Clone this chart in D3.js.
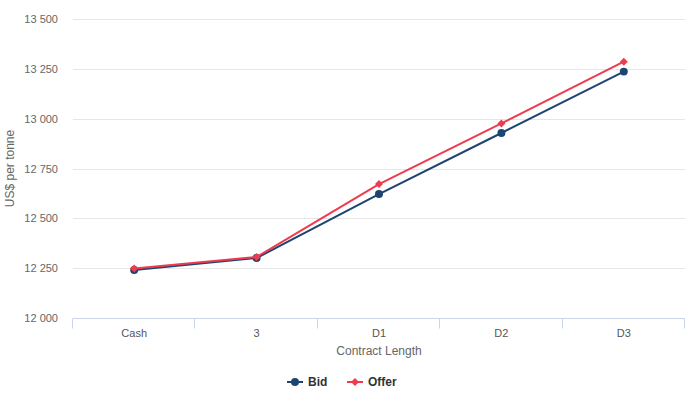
<!DOCTYPE html>
<html>
<head>
<meta charset="utf-8">
<script src="https://cdn.jsdelivr.net/npm/d3@7"></script>
<style>
  body { margin: 0; background: #fff; font-family: "Liberation Sans", Arial, sans-serif; }
</style>
</head>
<body>
<div id="chart"></div>
<script>
const categories = ['Cash', '3', 'D1', 'D2', 'D3'];
const bidValues = [12241, 12301, 12622, 12928, 13236];
const offerValues = [12248, 12306, 12672, 12976, 13286];
const yTicks = [12000, 12250, 12500, 12750, 13000, 13250, 13500];

const width = 691, height = 399;
const margin = { top: 19, right: 6, bottom: 81, left: 73 };

const svg = d3.select('#chart').append('svg')
  .attr('width', width)
  .attr('height', height);

const x = d3.scaleBand()
  .domain(categories)
  .range([margin.left, width - margin.right]);

const y = d3.scaleLinear()
  .domain([12000, 13500])
  .range([height - margin.bottom, margin.top]);

const fmt = v => d3.format(',')(v).replace(',', ' ');

// grid lines
svg.append('g')
  .selectAll('line')
  .data(yTicks)
  .enter()
  .append('line')
  .attr('x1', margin.left)
  .attr('x2', width - margin.right)
  .attr('y1', d => Math.round(y(d)) + 0.5)
  .attr('y2', d => Math.round(y(d)) + 0.5)
  .style('stroke', '#e6e6e6');

// y labels
svg.append('g')
  .selectAll('text')
  .data(yTicks)
  .enter()
  .append('text')
  .attr('x', 58)
  .attr('y', d => y(d) + 4)
  .attr('text-anchor', 'end')
  .text(d => fmt(d))
  .style('fill', '#666')
  .style('font-size', '11px');

svg.append('text')
  .attr('transform', `translate(14,${(margin.top + height - margin.bottom) / 2}) rotate(-90)`)
  .attr('text-anchor', 'middle')
  .text('US$ per tonne')
  .style('fill', '#666')
  .style('font-size', '12px');

// x axis
const baseY = Math.round(y(12000)) + 0.5;
svg.append('line')
  .attr('x1', margin.left)
  .attr('x2', width - margin.right)
  .attr('y1', baseY)
  .attr('y2', baseY)
  .style('stroke', '#ccd6eb');

const tickXs = categories.map(c => x(c)).concat([x.range()[1]]);
svg.append('g')
  .selectAll('line')
  .data(tickXs)
  .enter()
  .append('line')
  .attr('x1', d => Math.round(d) - 0.5)
  .attr('x2', d => Math.round(d) - 0.5)
  .attr('y1', baseY)
  .attr('y2', baseY + 10)
  .style('stroke', '#ccd6eb');

svg.append('g')
  .selectAll('text')
  .data(categories)
  .enter()
  .append('text')
  .attr('x', d => x(d) + x.bandwidth() / 2)
  .attr('y', 337)
  .attr('text-anchor', 'middle')
  .text(d => d)
  .style('fill', '#555')
  .style('font-size', '11px');

svg.append('text')
  .attr('x', (margin.left + width - margin.right) / 2)
  .attr('y', 355)
  .attr('text-anchor', 'middle')
  .text('Contract Length')
  .style('fill', '#666')
  .style('font-size', '12px');

// series
const series = [
  { name: 'Bid', values: bidValues, color: '#1c4571', symbol: d3.symbolCircle, size: 50, rot: 0 },
  { name: 'Offer', values: offerValues, color: '#ef3b4e', symbol: d3.symbolSquare, size: 32, rot: 45 }
];

const line = d3.line()
  .x((d, i) => x(categories[i]) + x.bandwidth() / 2)
  .y(d => y(d));

series.forEach(s => {
  svg.append('path')
    .datum(s.values)
    .attr('d', line)
    .style('fill', 'none')
    .style('stroke', s.color)
    .style('stroke-width', 2)
    .style('stroke-linejoin', 'round');

  svg.append('g')
    .selectAll('path')
    .data(s.values)
    .enter()
    .append('path')
    .attr('d', d3.symbol().type(s.symbol).size(s.size))
    .attr('transform', (d, i) => `translate(${x(categories[i]) + x.bandwidth() / 2},${y(d)}) rotate(${s.rot})`)
    .style('fill', s.color);
});

// legend
const legendX = [287, 347];
const legend = svg.selectAll('.legend')
  .data(series)
  .enter()
  .append('g')
  .attr('class', 'legend')
  .attr('transform', (d, i) => `translate(${legendX[i]},382)`);

legend.append('line')
  .attr('x1', 0)
  .attr('x2', 16)
  .style('stroke', d => d.color)
  .style('stroke-width', 2);

legend.append('path')
  .attr('d', d => d3.symbol().type(d.symbol).size(d.size)())
  .attr('transform', d => `translate(8,0) rotate(${d.rot})`)
  .style('fill', d => d.color);

legend.append('text')
  .attr('x', 21)
  .attr('y', 4)
  .text(d => d.name)
  .style('fill', '#333')
  .style('font-size', '12px')
  .style('font-weight', 'bold');
</script>
</body>
</html>
